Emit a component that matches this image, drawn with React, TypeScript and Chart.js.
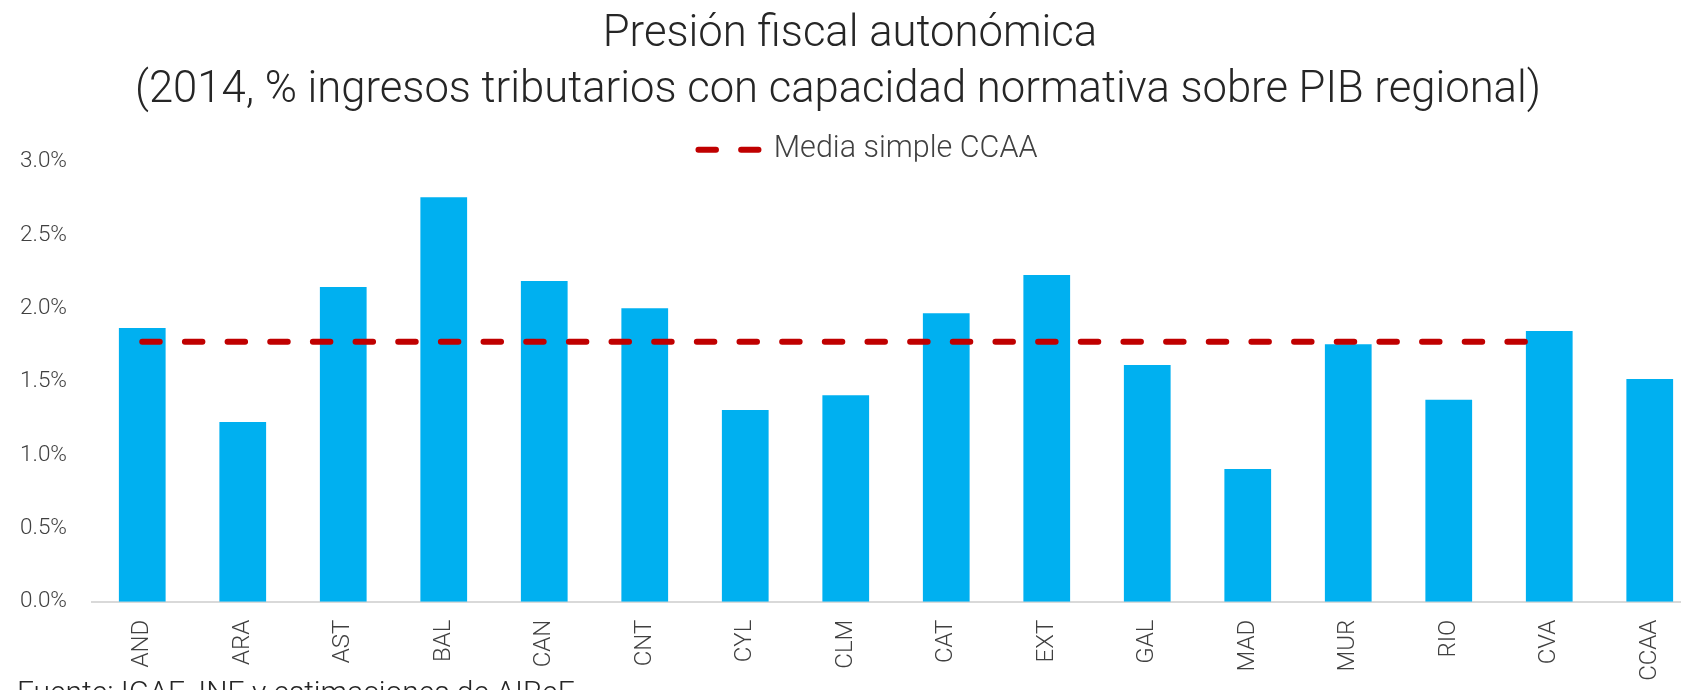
import React, { useEffect, useRef } from 'react';
import { Chart, registerables } from 'chart.js';

Chart.register(...registerables);

// ---- Data ----
const categories = ['AND', 'ARA', 'AST', 'BAL', 'CAN', 'CNT', 'CYL', 'CLM', 'CAT', 'EXT', 'GAL', 'MAD', 'MUR', 'RIO', 'CVA', 'CCAA'];
const presionFiscal = [1.866, 1.225, 2.146, 2.757, 2.187, 2.0, 1.307, 1.407, 1.966, 2.228, 1.614, 0.905, 1.755, 1.377, 1.846, 1.518];
const mediaSimple = [1.773, 1.773, 1.773, 1.773, 1.773, 1.773, 1.773, 1.773, 1.773, 1.773, 1.773, 1.773, 1.773, 1.773, 1.773, null];
const yMin = 0;
const yMax = 3;
const yStep = 0.5;
const titleLine1 = 'Presión fiscal autonómica';
const titleLine2 = '(2014, % ingresos tributarios con capacidad normativa sobre PIB regional)';
const barLabel = 'Presión fiscal';
const lineLabel = 'Media simple CCAA';
const sourceNote = 'Fuente: IGAE, INE y estimaciones de AIReF';

const FONT = 'Roboto, "Open Sans", "DejaVu Sans", sans-serif';
const TEXT = '#404040';

export default function App() {
  const canvasRef = useRef<HTMLCanvasElement | null>(null);

  useEffect(() => {
    if (!canvasRef.current) return;
    const chart = new Chart(canvasRef.current, {
      type: 'bar',
      data: {
        labels: categories,
        datasets: [
          {
            type: 'line',
            label: lineLabel,
            data: mediaSimple,
            borderColor: '#C00000',
            backgroundColor: '#C00000',
            borderWidth: 6,
            borderDash: [17.5, 25.16],
            borderCapStyle: 'round',
            pointRadius: 0,
            fill: false,
            order: 0,
          } as any,
          {
            type: 'bar',
            label: barLabel,
            data: presionFiscal,
            backgroundColor: '#00B0F0',
            borderWidth: 0,
            barPercentage: 0.465,
            categoryPercentage: 1,
            order: 1,
          } as any,
        ],
      },
      options: {
        responsive: false,
        animation: false,
        devicePixelRatio: 1,
        layout: { padding: { top: 124.5, left: 17, right: 0, bottom: 0 } },
        plugins: {
          title: { display: false },
          tooltip: { enabled: false },
          legend: {
            display: true,
            position: 'top',
            align: 'center',
            maxHeight: 37.2,
            labels: {
              usePointStyle: true,
              pointStyle: 'line',
              pointStyleWidth: 60,
              padding: 10,
              color: TEXT,
              font: { family: FONT, size: 30.5, weight: '300' as any },
              generateLabels: (c: any) => {
                const items = Chart.defaults.plugins.legend.labels.generateLabels(c);
                return items
                  .filter((it: any) => it.text === lineLabel)
                  .map((it: any) => {
                    const ds: any = c.data.datasets[it.datasetIndex];
                    return {
                      ...it,
                      lineDash: ds.borderDash,
                      lineCap: ds.borderCapStyle,
                      lineWidth: ds.borderWidth,
                      strokeStyle: ds.borderColor,
                    };
                  });
              },
            },
          } as any,
        },
        scales: {
          x: {
            grid: { display: false, drawTicks: false },
            border: { display: true, color: '#d9d9d9', width: 2 },
            ticks: {
              autoSkip: false,
              minRotation: 90,
              maxRotation: 90,
              padding: 18,
              color: TEXT,
              font: { family: FONT, size: 24, weight: '300' as any },
            },
            afterFit: (s: any) => {
              s.height = 88.3;
            },
          },
          y: {
            min: yMin,
            max: yMax,
            grid: { display: false, drawTicks: false },
            border: { display: false },
            ticks: {
              stepSize: yStep,
              padding: 25,
              color: TEXT,
              font: { family: FONT, size: 22.5, weight: '300' as any },
              callback: (v: any) => Number(v).toFixed(1) + '%',
            },
            afterFit: (s: any) => {
              s.width = 75;
            },
          },
          // empty right-hand margin (off-screen), keeps the plot where the reference has it
          yRight: {
            position: 'right',
            display: true,
            min: yMin,
            max: yMax,
            grid: { display: false, drawTicks: false },
            border: { display: false },
            ticks: { display: false },
            afterFit: (s: any) => {
              s.width = 19;
            },
          },
        },
      } as any,
    });
    return () => chart.destroy();
  }, []);

  const titleStyle: React.CSSProperties = {
    position: 'absolute',
    transform: 'translateX(-50%)',
    whiteSpace: 'nowrap',
    fontFamily: FONT,
    fontWeight: 300,
    fontSize: 43.6,
    lineHeight: '44px',
    color: '#262626',
  };

  return (
    <div style={{ position: 'fixed', left: 0, top: 0, width: 1681, height: 690, overflow: 'hidden', background: '#fff' }}>
      <canvas ref={canvasRef} width={1719} height={690} style={{ position: 'absolute', left: 0, top: 0, width: 1719, height: 690 }} />
      <div style={{ ...titleStyle, left: 850, top: 9.5 }}>{titleLine1}</div>
      <div style={{ ...titleStyle, left: 838, top: 65.5 }}>{titleLine2}</div>
      <div
        style={{
          position: 'absolute',
          left: 17,
          top: 676.5,
          whiteSpace: 'nowrap',
          fontFamily: FONT,
          fontWeight: 300,
          fontSize: 30,
          lineHeight: '30px',
          color: '#262626',
        }}
      >
        {sourceNote}
      </div>
    </div>
  );
}
